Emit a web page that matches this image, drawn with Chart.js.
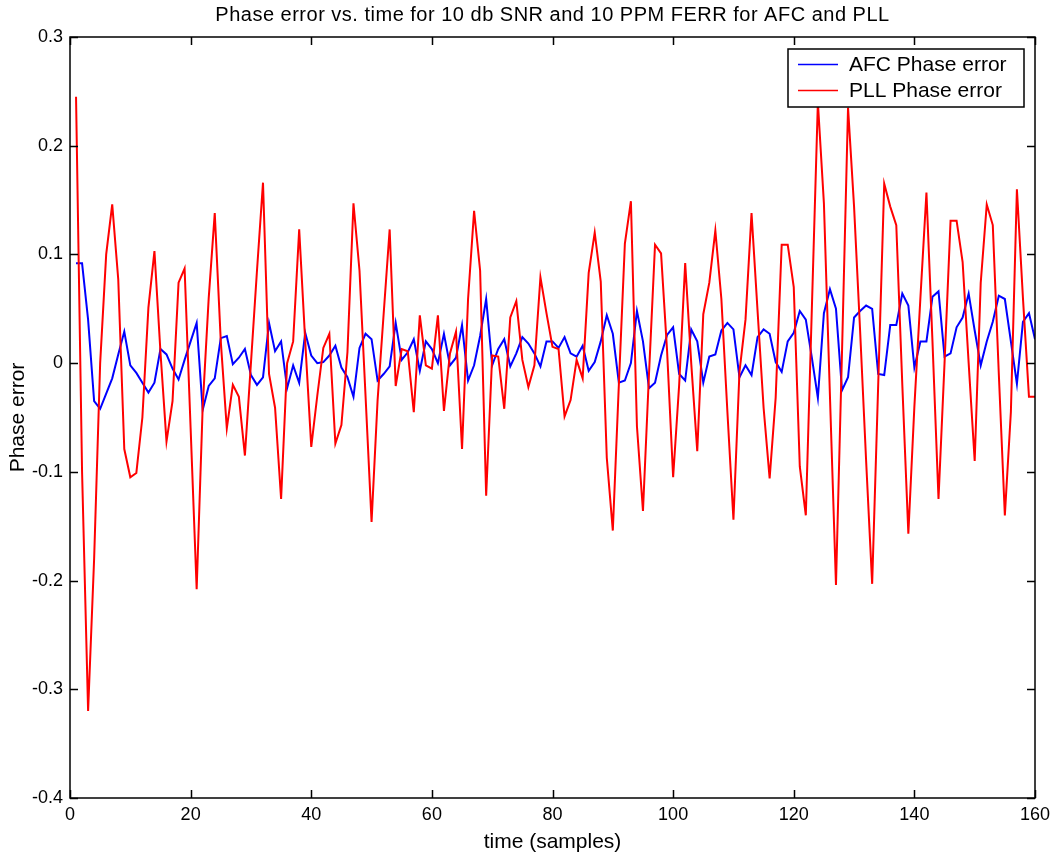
<!DOCTYPE html>
<html>
<head>
<meta charset="utf-8">
<script src="https://cdn.jsdelivr.net/npm/chart.js@4/dist/chart.umd.min.js"></script>
<style>
  html, body { margin: 0; padding: 0; background: #ffffff; }
  #wrap { width: 1058px; height: 854px; }
</style>
</head>
<body>
<div id="wrap"><canvas id="c" width="1058" height="854"></canvas></div>
<script>
const chartTitle = "Phase error vs. time for 10 db SNR and 10 PPM FERR for AFC and PLL";
const xLabel = "time (samples)";
const yLabel = "Phase error";
const seriesNames = ["AFC Phase error", "PLL Phase error"];
const xTickValues = [0, 20, 40, 60, 80, 100, 120, 140, 160];
const yTickValues = [-0.4, -0.3, -0.2, -0.1, 0, 0.1, 0.2, 0.3];

const samples = Array.from({ length: 160 }, (_, i) => i + 1);

const afc = [
  0.092, 0.092, 0.040, -0.035, -0.042, -0.028, -0.014, 0.008, 0.029, -0.002,
  -0.009, -0.018, -0.027, -0.018, 0.013, 0.008, -0.005, -0.015, 0.003, 0.020,
  0.037, -0.043, -0.021, -0.014, 0.023, 0.025, -0.001, 0.005, 0.013, -0.011,
  -0.020, -0.013, 0.037, 0.011, 0.020, -0.023, -0.002, -0.018, 0.028, 0.007,
  0.000, 0.001, 0.007, 0.016, -0.004, -0.013, -0.031, 0.014, 0.027, 0.022,
  -0.016, -0.010, -0.003, 0.037, 0.003, 0.010, 0.022, -0.007, 0.020, 0.013,
  0.000, 0.027, -0.002, 0.005, 0.035, -0.016, -0.002, 0.025, 0.059, -0.002,
  0.013, 0.022, -0.003, 0.009, 0.024, 0.018, 0.009, -0.003, 0.020, 0.020,
  0.014, 0.024, 0.009, 0.006, 0.016, -0.007, 0.001, 0.020, 0.044, 0.027,
  -0.018, -0.016, 0.000, 0.048, 0.020, -0.023, -0.018, 0.007, 0.026, 0.033,
  -0.010, -0.016, 0.031, 0.020, -0.018, 0.006, 0.008, 0.030, 0.037, 0.031,
  -0.013, -0.002, -0.011, 0.024, 0.031, 0.027, 0.001, -0.008, 0.020, 0.028,
  0.048, 0.040, 0.005, -0.032, 0.046, 0.068, 0.050, -0.025, -0.013, 0.042,
  0.048, 0.053, 0.050, -0.010, -0.011, 0.035, 0.035, 0.064, 0.053, -0.004,
  0.020, 0.020, 0.061, 0.066, 0.006, 0.009, 0.033, 0.042, 0.064, 0.030,
  -0.002, 0.020, 0.038, 0.062, 0.059, 0.020, -0.019, 0.038, 0.046, 0.022
];

const pll = [
  0.245, -0.100, -0.320, -0.180, 0.000, 0.100, 0.146, 0.077, -0.079, -0.105,
  -0.101, -0.050, 0.051, 0.103, 0.010, -0.072, -0.035, 0.074, 0.087, -0.060,
  -0.208, -0.040, 0.060, 0.138, 0.020, -0.060, -0.020, -0.031, -0.085, 0.000,
  0.085, 0.166, -0.010, -0.041, -0.125, 0.000, 0.020, 0.123, 0.020, -0.077,
  -0.030, 0.014, 0.027, -0.074, -0.057, 0.010, 0.147, 0.085, -0.030, -0.146,
  -0.034, 0.045, 0.123, -0.021, 0.013, 0.011, -0.045, 0.044, -0.002, -0.005,
  0.044, -0.044, 0.009, 0.029, -0.079, 0.059, 0.140, 0.085, -0.122, 0.007,
  0.006, -0.042, 0.042, 0.057, 0.003, -0.022, -0.002, 0.079, 0.046, 0.015,
  0.013, -0.049, -0.034, 0.003, -0.014, 0.083, 0.120, 0.075, -0.087, -0.154,
  -0.020, 0.110, 0.149, -0.058, -0.136, -0.010, 0.109, 0.101, 0.011, -0.105,
  -0.020, 0.092, 0.000, -0.081, 0.045, 0.074, 0.122, 0.059, -0.045, -0.144,
  -0.008, 0.040, 0.138, 0.048, -0.041, -0.106, -0.032, 0.109, 0.109, 0.070,
  -0.095, -0.140, 0.050, 0.240, 0.147, -0.030, -0.204, 0.010, 0.235, 0.144,
  0.030, -0.090, -0.203, -0.020, 0.165, 0.144, 0.127, -0.020, -0.157, -0.040,
  0.060, 0.157, 0.020, -0.125, 0.000, 0.131, 0.131, 0.093, 0.000, -0.090,
  0.074, 0.146, 0.127, -0.010, -0.140, -0.045, 0.160, 0.060, -0.031, -0.031
];

const seriesColors = ["#0000ff", "#ff0000"];
const FONT = "'Liberation Sans', Arial, Helvetica, sans-serif";

const matlabDecor = {
  id: "matlabDecor",
  afterDatasetsDraw(chart) {
    const ctx = chart.ctx;
    const { left, right, top, bottom } = chart.chartArea;
    const xs = chart.scales.x, ys = chart.scales.y;
    ctx.save();
    ctx.strokeStyle = "#000";
    ctx.lineWidth = 1.5;
    ctx.strokeRect(left, top, right - left, bottom - top);
    const tl = 8;
    ctx.beginPath();
    xTickValues.forEach(v => {
      const px = Math.round(xs.getPixelForValue(v)) + 0.5;
      ctx.moveTo(px, bottom); ctx.lineTo(px, bottom - tl);
      ctx.moveTo(px, top); ctx.lineTo(px, top + tl);
    });
    yTickValues.forEach(v => {
      const py = Math.round(ys.getPixelForValue(v)) + 0.5;
      ctx.moveTo(left, py); ctx.lineTo(left + tl, py);
      ctx.moveTo(right, py); ctx.lineTo(right - tl, py);
    });
    ctx.stroke();

    // legend
    const lx = 788, ly = 49, lw = 236, lh = 58;
    ctx.fillStyle = "#fff";
    ctx.fillRect(lx, ly, lw, lh);
    ctx.lineWidth = 1.5;
    ctx.strokeRect(lx, ly, lw, lh);
    ctx.font = "21px " + FONT;
    ctx.textBaseline = "middle";
    ctx.textAlign = "left";
    [64.5, 90.5].forEach((yy, i) => {
      ctx.strokeStyle = seriesColors[i];
      ctx.lineWidth = 1.5;
      ctx.beginPath();
      ctx.moveTo(798, yy); ctx.lineTo(838, yy);
      ctx.stroke();
      ctx.fillStyle = "#000";
      ctx.fillText(seriesNames[i], 849, yy + 1);
    });

    // titles
    const cx = (left + right) / 2;
    ctx.fillStyle = "#000";
    ctx.textAlign = "center";
    ctx.textBaseline = "middle";
    ctx.font = "20px " + FONT;
    if ("letterSpacing" in ctx) ctx.letterSpacing = "0.5px";
    ctx.fillText(chartTitle, cx, 15);
    if ("letterSpacing" in ctx) ctx.letterSpacing = "0px";
    ctx.font = "21px " + FONT;
    ctx.fillText(xLabel, cx, 842);
    ctx.save();
    ctx.translate(18, (top + bottom) / 2);
    ctx.rotate(-Math.PI / 2);
    ctx.fillText(yLabel, 0, 0);
    ctx.restore();
    ctx.restore();
  }
};

new Chart(document.getElementById("c"), {
  type: "line",
  data: {
    datasets: [
      {
        label: seriesNames[0],
        data: afc.map((v, i) => ({ x: samples[i], y: v })),
        borderColor: seriesColors[0],
        borderWidth: 2,
        pointRadius: 0,
        tension: 0,
        fill: false,
        order: 1
      },
      {
        label: seriesNames[1],
        data: pll.map((v, i) => ({ x: samples[i], y: v })),
        borderColor: seriesColors[1],
        borderWidth: 2,
        pointRadius: 0,
        tension: 0,
        fill: false,
        order: 0
      }
    ]
  },
  options: {
    responsive: false,
    animation: false,
    devicePixelRatio: 1,
    layout: { padding: { left: 0, top: 37, right: 23, bottom: 0 } },
    plugins: {
      legend: { display: false },
      title: { display: false },
      tooltip: { enabled: false }
    },
    scales: {
      x: {
        type: "linear",
        min: 0,
        max: 160,
        afterFit: s => { s.height = 56; },
        afterBuildTicks: s => { s.ticks = xTickValues.map(v => ({ value: v })); },
        grid: { display: false, drawTicks: false },
        border: { display: false },
        ticks: {
          color: "#000",
          font: { family: FONT, size: 18 },
          padding: 6,
          maxRotation: 0,
          autoSkip: false
        }
      },
      y: {
        type: "linear",
        min: -0.4,
        max: 0.3,
        afterFit: s => { s.width = 70; },
        afterBuildTicks: s => { s.ticks = yTickValues.map(v => ({ value: v })); },
        grid: { display: false, drawTicks: false },
        border: { display: false },
        ticks: {
          color: "#000",
          font: { family: FONT, size: 18 },
          padding: 7,
          autoSkip: false,
          callback: v => String(parseFloat(Number(v).toFixed(1)))
        }
      }
    }
  },
  plugins: [matlabDecor]
});
</script>
</body>
</html>
